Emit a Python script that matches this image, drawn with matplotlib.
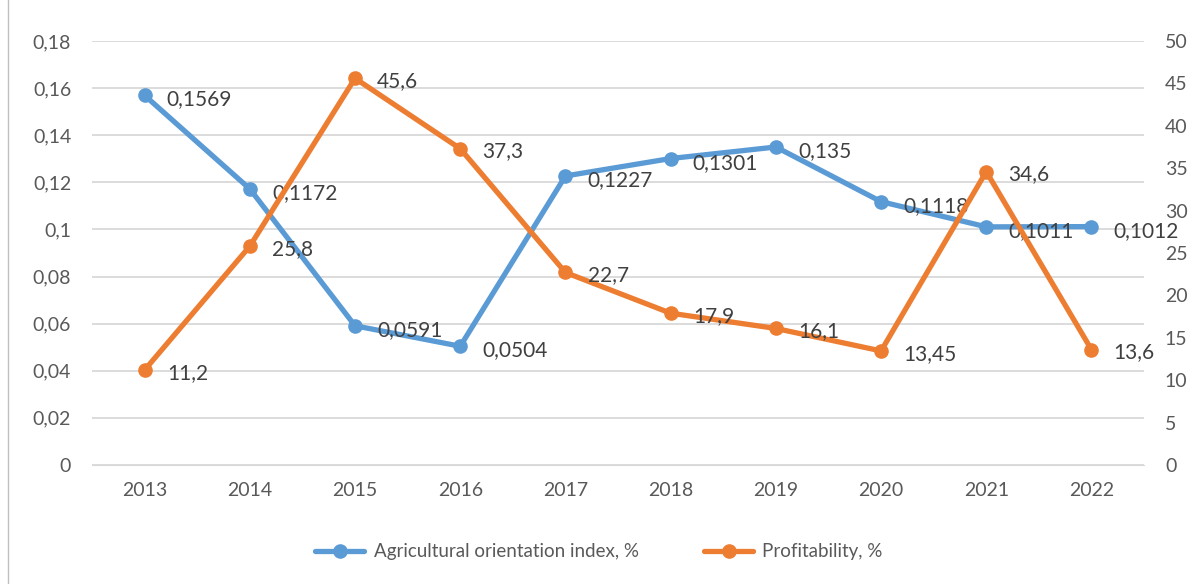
import matplotlib.pyplot as plt
from matplotlib.ticker import FuncFormatter

plt.rcParams['font.family'] = ['Lato', 'DejaVu Sans']

years = ['2013', '2014', '2015', '2016', '2017', '2018', '2019', '2020', '2021', '2022']
orientation = [0.1569, 0.1172, 0.0591, 0.0504, 0.1227, 0.1301, 0.135, 0.1118, 0.1011, 0.1012]
profit = [11.2, 25.8, 45.6, 37.3, 22.7, 17.9, 16.1, 13.45, 34.6, 13.6]

blue = '#5B9BD5'
orange = '#ED7D31'
txt = '#404040'

def comma(v):
    return ('%g' % v).replace('.', ',')

fig = plt.figure(figsize=(11.98, 5.84), dpi=100)
ax = fig.add_axes([0.0768, 0.2038, 0.8782, 0.726])
ax2 = ax.twinx()

x = list(range(len(years)))
l1, = ax.plot(x, orientation, color=blue, lw=3.8, marker='o', ms=9.5, solid_capstyle='round',
              label='Agricultural orientation index, %', zorder=3)
l2, = ax2.plot(x, profit, color=orange, lw=3.8, marker='o', ms=9.5, solid_capstyle='round',
               label='Profitability, %', zorder=3)

ax.set_ylim(0, 0.18)
ax.set_yticks([i * 0.02 for i in range(10)])
ax.yaxis.set_major_formatter(FuncFormatter(lambda v, p: '0' if abs(v) < 1e-9 else comma(round(v, 2))))
ax2.set_ylim(0, 50)
ax2.set_yticks(range(0, 51, 5))
ax.set_xlim(-0.5, len(years) - 0.5)
ax.set_xticks(x)
ax.set_xticklabels(years)

ax.grid(axis='y', color='#D9D9D9', lw=1.3)
ax.set_axisbelow(True)
for a in (ax, ax2):
    for s in a.spines.values():
        s.set_visible(False)
    a.tick_params(length=0, labelsize=14, colors='#595959')
ax.tick_params(axis='y', pad=15)
ax.tick_params(axis='x', pad=12)
ax2.tick_params(axis='y', pad=15)
ax.spines['bottom'].set_visible(True)
ax.spines['bottom'].set_color('#D9D9D9')

for xi, v in zip(x, orientation):
    ax.annotate(comma(v), (xi, v), xytext=(16, -3), textcoords='offset points',
                ha='left', va='center', fontsize=15, color=txt, zorder=5)
for xi, v in zip(x, profit):
    ax2.annotate(comma(v), (xi, v), xytext=(16, -2), textcoords='offset points',
                 ha='left', va='center', fontsize=15, color=txt, zorder=5)

fig.legend(handles=[l1, l2], loc='lower center', bbox_to_anchor=(0.5, 0.012), ncol=2,
           frameon=False, fontsize=13.5, handlelength=2.6, handletextpad=0.5, columnspacing=3.5,
           labelcolor='#595959')

fig.add_artist(plt.Line2D([0.007, 0.007], [0, 1], color='#BFBFBF', lw=1))

plt.savefig('out.png', dpi=100)
